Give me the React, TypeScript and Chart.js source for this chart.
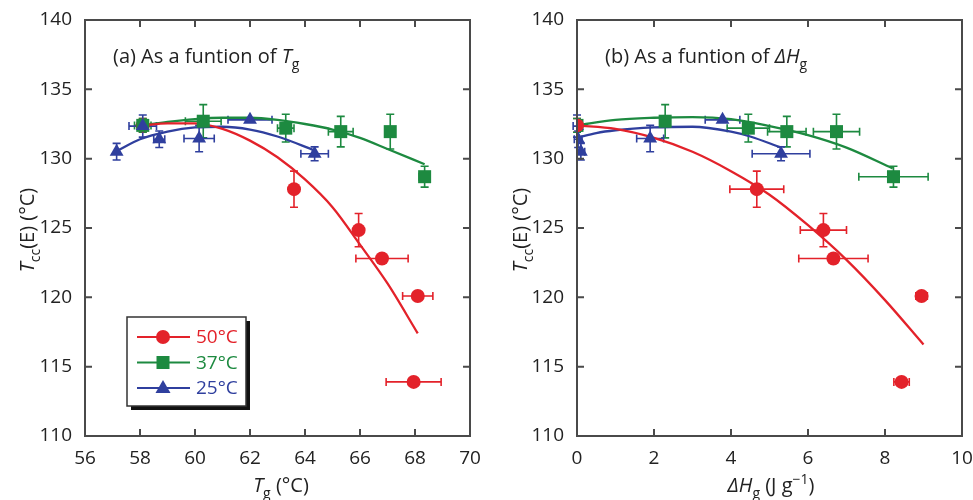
import React, { useEffect, useRef } from "react";
import { Chart, registerables } from "chart.js";
Chart.register(...registerables);

const FONT = "'Open Sans', 'DejaVu Sans', sans-serif";
const RED = "#e3222a";
const GREEN = "#1d8a40";
const BLUE = "#2f3f9e";
const AXIS = "#4a4a4a";

// ---------- Panel (a): Tcc(E) vs Tg ----------
const aRedX = [58.1, 63.6, 65.95, 66.8, 68.1, 67.95];
const aRedY = [132.4, 127.8, 124.85, 122.8, 120.1, 113.9];
const aRedXErr = [0, 0, 0, 0.95, 0.55, 1.0];
const aRedYErr = [0.5, 1.3, 1.2, 0, 0, 0];

const aGreenX = [58.1, 60.3, 63.3, 65.3, 67.1, 68.35];
const aGreenY = [132.4, 132.7, 132.2, 131.95, 131.95, 128.7];
const aGreenXErr = [0.3, 0.65, 0.3, 0.45, 0, 0.2];
const aGreenYErr = [0.5, 1.2, 1.0, 1.1, 1.25, 0.75];

const aBlueX = [57.15, 58.1, 58.7, 60.15, 62.0, 64.35];
const aBlueY = [130.5, 132.35, 131.4, 131.45, 132.8, 130.35];
const aBlueXErr = [0, 0.5, 0.2, 0.55, 0.8, 0.5];
const aBlueYErr = [0.6, 0.8, 0.6, 0.95, 0, 0.5];

const aRedFitX = [58.1, 59, 60, 61, 62, 63, 64, 65, 66, 67, 68.1];
const aRedFitY = [132.4, 132.55, 132.55, 132.15, 131.3, 130.1, 128.5, 126.5, 123.8, 121.0, 117.4];
const aGreenFitX = [58.1, 59, 60, 61, 62, 63, 64, 65, 66, 67, 68.35];
const aGreenFitY = [132.4, 132.65, 132.85, 132.95, 132.95, 132.8, 132.5, 132.1, 131.5, 130.7, 129.6];
const aBlueFitX = [57.2, 58, 59, 60, 61, 62, 63, 64.35];
const aBlueFitY = [130.6, 131.4, 131.95, 132.25, 132.3, 132.1, 131.6, 130.6];

// ---------- Panel (b): Tcc(E) vs ΔHg ----------
const bRedX = [0.0, 4.67, 6.4, 6.66, 8.95, 8.43];
const bRedY = [132.4, 127.8, 124.85, 122.8, 120.1, 113.9];
const bRedXErr = [0, 0.7, 0.6, 0.9, 0.15, 0.2];
const bRedYErr = [0.5, 1.3, 1.2, 0, 0, 0];

const bGreenX = [0.0, 2.29, 4.45, 5.45, 6.74, 8.22];
const bGreenY = [132.4, 132.7, 132.2, 131.95, 131.95, 128.7];
const bGreenXErr = [0, 0, 0.55, 0.5, 0.6, 0.9];
const bGreenYErr = [0.5, 1.2, 1.0, 1.1, 1.25, 0.75];

const bBlueX = [0.1, 0.0, 0.03, 1.9, 3.78, 5.3];
const bBlueY = [130.5, 132.35, 131.4, 131.45, 132.8, 130.35];
const bBlueXErr = [0.1, 0.1, 0.1, 0.35, 0.45, 0.75];
const bBlueYErr = [0.6, 0.8, 0.6, 0.95, 0, 0.5];

const bRedFitX = [0, 1, 2, 3, 4, 5, 6, 7, 8, 9];
const bRedFitY = [132.4, 132.15, 131.5, 130.5, 129.1, 127.4, 125.2, 122.7, 119.8, 116.6];
const bGreenFitX = [0, 1, 2, 3, 4, 5, 6, 7, 8.2];
const bGreenFitY = [132.4, 132.8, 132.95, 133.0, 132.85, 132.35, 131.7, 130.8, 129.3];
const bBlueFitX = [0, 0.5, 1, 2, 3, 4, 4.5, 5.3];
const bBlueFitY = [131.5, 131.85, 132.05, 132.25, 132.3, 131.95, 131.6, 130.8];

// ---------- Axes ----------
const yMin = 110, yMax = 140, yStep = 5;
const aXMin = 56, aXMax = 70, aXStep = 2;
const bXMin = 0, bXMax = 10, bXStep = 2;

const legendLabels = ["50°C", "37°C", "25°C"];
const legendColors = [RED, GREEN, BLUE];
const legendStyles = ["circle", "rect", "triangle"];

type Part = { t: string; it?: boolean; sub?: boolean; sup?: boolean };

function drawParts(ctx: CanvasRenderingContext2D, parts: Part[], x: number, y: number, size: number, color: string, align: "left" | "center") {
  const fontFor = (p: Part) => `${p.it ? "italic " : ""}${p.sub || p.sup ? Math.round(size * 0.72) : size}px ${FONT}`;
  let total = 0;
  const widths = parts.map((p) => {
    ctx.font = fontFor(p);
    const w = ctx.measureText(p.t).width;
    total += w;
    return w;
  });
  let cx = align === "center" ? x - total / 2 : x;
  ctx.fillStyle = color;
  ctx.textAlign = "left";
  ctx.textBaseline = "alphabetic";
  parts.forEach((p, i) => {
    ctx.font = fontFor(p);
    const dy = p.sub ? size * 0.32 : p.sup ? -size * 0.42 : 0;
    ctx.fillText(p.t, cx, y + dy);
    cx += widths[i];
  });
}

function drawMarker(ctx: CanvasRenderingContext2D, style: string, x: number, y: number, color: string) {
  ctx.fillStyle = color;
  ctx.beginPath();
  if (style === "circle") {
    ctx.arc(x, y, 7, 0, Math.PI * 2);
  } else if (style === "rect") {
    ctx.rect(x - 6.5, y - 6.5, 13, 13);
  } else {
    ctx.moveTo(x, y - 8);
    ctx.lineTo(x + 7.5, y + 5);
    ctx.lineTo(x - 7.5, y + 5);
    ctx.closePath();
  }
  ctx.fill();
}

type ErrSet = { x: number[]; y: number[]; xe: number[]; ye: number[]; color: string };

type PanelSpec = {
  xMin: number; xMax: number; xStep: number;
  yAxisWidth: number; rightPad: number;
  points: { x: number[]; y: number[]; color: string; style: string; radius: number; order: number }[];
  fits: { x: number[]; y: number[]; color: string }[];
  errs: ErrSet[];
  title: Part[];
  titleX: number;
  xTitle: Part[];
  xTitleX: number;
  yTitleX: number;
  legend: boolean;
};

function Panel({ spec, width }: { spec: PanelSpec; width: number }) {
  const ref = useRef<HTMLCanvasElement>(null);
  useEffect(() => {
    const canvas = ref.current!;
    const datasets: any[] = [];
    spec.points.forEach((p) => {
      datasets.push({
        data: p.x.map((v, i) => ({ x: v, y: p.y[i] })),
        showLine: false,
        pointStyle: p.style,
        pointRadius: p.radius,
        pointBackgroundColor: p.color,
        pointBorderColor: p.color,
        pointBorderWidth: 0,
        order: p.order,
      });
    });
    spec.fits.forEach((f) => {
      datasets.push({
        data: f.x.map((v, i) => ({ x: v, y: f.y[i] })),
        showLine: true,
        borderColor: f.color,
        borderWidth: 2.3,
        pointRadius: 0,
        tension: 0.4,
        cubicInterpolationMode: "monotone",
        order: 20,
      });
    });

    const plugin = {
      id: "decor",
      beforeDatasetsDraw(chart: any) {
        const ctx = chart.ctx as CanvasRenderingContext2D;
        const xs = chart.scales.x, ys = chart.scales.y;
        ctx.save();
        ctx.lineWidth = 1.6;
        const cap = 4;
        spec.errs.forEach((e) => {
          ctx.strokeStyle = e.color;
          e.x.forEach((xv, i) => {
            const px = xs.getPixelForValue(xv), py = ys.getPixelForValue(e.y[i]);
            if (e.xe[i] > 0) {
              const l = xs.getPixelForValue(xv - e.xe[i]), r = xs.getPixelForValue(xv + e.xe[i]);
              ctx.beginPath();
              ctx.moveTo(l, py); ctx.lineTo(r, py);
              ctx.moveTo(l, py - cap); ctx.lineTo(l, py + cap);
              ctx.moveTo(r, py - cap); ctx.lineTo(r, py + cap);
              ctx.stroke();
            }
            if (e.ye[i] > 0) {
              const t = ys.getPixelForValue(e.y[i] + e.ye[i]), b = ys.getPixelForValue(e.y[i] - e.ye[i]);
              ctx.beginPath();
              ctx.moveTo(px, t); ctx.lineTo(px, b);
              ctx.moveTo(px - cap, t); ctx.lineTo(px + cap, t);
              ctx.moveTo(px - cap, b); ctx.lineTo(px + cap, b);
              ctx.stroke();
            }
          });
        });
        ctx.restore();
      },
      afterDraw(chart: any) {
        const ctx = chart.ctx as CanvasRenderingContext2D;
        const a = chart.chartArea;
        const xs = chart.scales.x, ys = chart.scales.y;
        ctx.save();
        // frame
        ctx.strokeStyle = AXIS;
        ctx.lineWidth = 2;
        ctx.strokeRect(a.left, a.top, a.right - a.left, a.bottom - a.top);
        // inward ticks on all four sides
        const tl = 7;
        ctx.beginPath();
        xs.ticks.forEach((t: any) => {
          const px = xs.getPixelForValue(t.value);
          ctx.moveTo(px, a.bottom); ctx.lineTo(px, a.bottom - tl);
          ctx.moveTo(px, a.top); ctx.lineTo(px, a.top + tl);
        });
        ys.ticks.forEach((t: any) => {
          const py = ys.getPixelForValue(t.value);
          ctx.moveTo(a.left, py); ctx.lineTo(a.left + tl, py);
          ctx.moveTo(a.right, py); ctx.lineTo(a.right - tl, py);
        });
        ctx.stroke();

        // panel title
        drawParts(ctx, spec.title, spec.titleX, 63, 20, "#222", "left");
        // x title
        drawParts(ctx, spec.xTitle, spec.xTitleX, 492, 20, "#222", "center");
        // y title
        ctx.save();
        ctx.translate(spec.yTitleX, (a.top + a.bottom) / 2 + 2);
        ctx.rotate(-Math.PI / 2);
        drawParts(ctx, [{ t: "T", it: true }, { t: "cc", sub: true }, { t: "(E) (°C)" }], 0, 0, 20, "#222", "center");
        ctx.restore();

        if (spec.legend) {
          const bx = 127, by = 317, bw = 119, bh = 89;
          ctx.fillStyle = "#111";
          ctx.fillRect(bx + 4, by + 4, bw, bh);
          ctx.fillStyle = "#fff";
          ctx.fillRect(bx, by, bw, bh);
          ctx.strokeStyle = "#333";
          ctx.lineWidth = 1.5;
          ctx.strokeRect(bx, by, bw, bh);
          legendLabels.forEach((lab, i) => {
            const cy = 337 + i * 25.5;
            ctx.strokeStyle = legendColors[i];
            ctx.lineWidth = 2;
            ctx.beginPath();
            ctx.moveTo(137, cy); ctx.lineTo(190, cy);
            ctx.stroke();
            drawMarker(ctx, legendStyles[i], 163, cy, legendColors[i]);
            ctx.font = `19px ${FONT}`;
            ctx.fillStyle = legendColors[i];
            ctx.textAlign = "left";
            ctx.textBaseline = "middle";
            ctx.fillText(lab, 196, cy + 1);
          });
        }
        ctx.restore();
      },
    };

    const chart = new Chart(canvas, {
      type: "scatter",
      data: { datasets },
      options: {
        responsive: false,
        animation: false,
        devicePixelRatio: 1,
        layout: { padding: { top: 20, right: spec.rightPad, bottom: 0, left: 0 } },
        plugins: { legend: { display: false }, tooltip: { enabled: false } },
        scales: {
          x: {
            type: "linear",
            min: spec.xMin,
            max: spec.xMax,
            grid: { display: false },
            border: { display: false },
            ticks: { stepSize: spec.xStep, padding: 3, color: "#222", font: { family: FONT, size: 19 }, maxRotation: 0 },
            afterFit: (s: any) => { s.height = 64; s.paddingLeft = 0; s.paddingRight = 0; },
          },
          y: {
            type: "linear",
            min: yMin,
            max: yMax,
            grid: { display: false },
            border: { display: false },
            ticks: { stepSize: yStep, padding: 5, color: "#222", font: { family: FONT, size: 19 } },
            afterFit: (s: any) => { s.width = spec.yAxisWidth; s.paddingTop = 0; s.paddingBottom = 0; },
          },
        },
      } as any,
      plugins: [plugin],
    });
    return () => chart.destroy();
  }, [spec]);
  return <canvas ref={ref} width={width} height={500} style={{ display: "block" }} />;
}

const specA: PanelSpec = {
  xMin: aXMin, xMax: aXMax, xStep: aXStep,
  yAxisWidth: 85, rightPad: 16,
  points: [
    { x: aBlueX, y: aBlueY, color: BLUE, style: "triangle", radius: 8, order: 1 },
    { x: aGreenX, y: aGreenY, color: GREEN, style: "rect", radius: 9.2, order: 2 },
    { x: aRedX, y: aRedY, color: RED, style: "circle", radius: 7, order: 3 },
  ],
  fits: [
    { x: aRedFitX, y: aRedFitY, color: RED },
    { x: aGreenFitX, y: aGreenFitY, color: GREEN },
    { x: aBlueFitX, y: aBlueFitY, color: BLUE },
  ],
  errs: [
    { x: aRedX, y: aRedY, xe: aRedXErr, ye: aRedYErr, color: RED },
    { x: aGreenX, y: aGreenY, xe: aGreenXErr, ye: aGreenYErr, color: GREEN },
    { x: aBlueX, y: aBlueY, xe: aBlueXErr, ye: aBlueYErr, color: BLUE },
  ],
  title: [{ t: "(a) As a funtion of " }, { t: "T", it: true }, { t: "g", sub: true }],
  titleX: 113,
  xTitle: [{ t: "T", it: true }, { t: "g", sub: true }, { t: " (°C)" }],
  xTitleX: 281,
  yTitleX: 34,
  legend: true,
};

const specB: PanelSpec = {
  xMin: bXMin, xMax: bXMax, xStep: bXStep,
  yAxisWidth: 91, rightPad: 11,
  points: [
    { x: bRedX, y: bRedY, color: RED, style: "circle", radius: 7, order: 1 },
    { x: bBlueX, y: bBlueY, color: BLUE, style: "triangle", radius: 8, order: 2 },
    { x: bGreenX, y: bGreenY, color: GREEN, style: "rect", radius: 9.2, order: 3 },
  ],
  fits: [
    { x: bRedFitX, y: bRedFitY, color: RED },
    { x: bGreenFitX, y: bGreenFitY, color: GREEN },
    { x: bBlueFitX, y: bBlueFitY, color: BLUE },
  ],
  errs: [
    { x: bRedX, y: bRedY, xe: bRedXErr, ye: bRedYErr, color: RED },
    { x: bGreenX, y: bGreenY, xe: bGreenXErr, ye: bGreenYErr, color: GREEN },
    { x: bBlueX, y: bBlueY, xe: bBlueXErr, ye: bBlueYErr, color: BLUE },
  ],
  title: [{ t: "(b) As a funtion of " }, { t: "ΔH", it: true }, { t: "g", sub: true }],
  titleX: 119,
  xTitle: [{ t: "ΔH", it: true }, { t: "g", sub: true }, { t: " (J g" }, { t: "−1", sup: true }, { t: ")" }],
  xTitleX: 285,
  yTitleX: 41,
  legend: false,
};

export default function App() {
  return (
    <div style={{ position: "fixed", left: 0, top: 0, width: 973, height: 500, background: "#fff", display: "flex" }}>
      <Panel spec={specA} width={486} />
      <Panel spec={specB} width={487} />
    </div>
  );
}
